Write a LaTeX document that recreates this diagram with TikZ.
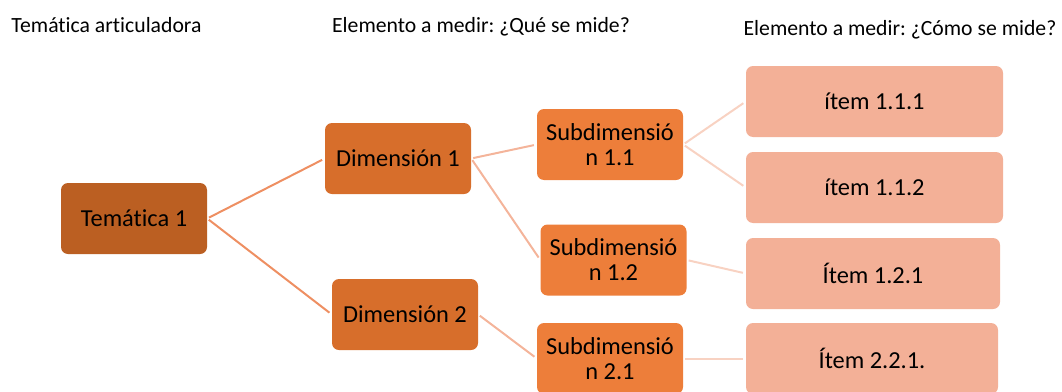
\documentclass[tikz,border=0pt]{standalone}
\usepackage{fontspec}
\setmainfont{Carlito}[Ligatures=NoCommon]
\frenchspacing
\usepackage{tikz}
\usetikzlibrary{shapes,arrows}
\definecolor{temaFill}{RGB}{187,95,34}
\definecolor{dimFill}{RGB}{215,110,43}
\definecolor{subFill}{RGB}{237,126,58}
\definecolor{itemFill}{RGB}{243,176,151}
\definecolor{lineOne}{RGB}{238,143,98}
\definecolor{lineTwo}{RGB}{244,180,154}
\definecolor{lineThree}{RGB}{248,210,194}
\tikzstyle{heading} = [font=\fontsize{21.7}{26}\selectfont, text=black]
\tikzstyle{box} = [rectangle, rounded corners=7pt, inner sep=0pt, minimum height=71pt,
text centered, align=center, font=\fontsize{24.4}{25}\selectfont, text=black]
\tikzstyle{tema} = [box, minimum width=146pt, fill=temaFill]
\tikzstyle{dimension} = [box, minimum width=146pt, fill=dimFill]
\tikzstyle{subdim} = [box, minimum width=146pt, fill=subFill]
\tikzstyle{item} = [box, minimum width=257pt, fill=itemFill]
\tikzstyle{linkOne} = [line width=2pt, draw=lineOne, shorten <=2pt, shorten >=3pt]
\tikzstyle{linkTwo} = [line width=2pt, draw=lineTwo, shorten <=2pt, shorten >=3pt]
\tikzstyle{linkThree} = [line width=2pt, draw=lineThree, shorten <=2pt, shorten >=3pt]
\begin{document}
\begin{tikzpicture}[node distance=264pt]
		\useasboundingbox (0,0) rectangle (1062pt,-391pt);
		%headings
		\node[heading](headTema) at (106.5pt,-25pt){Temática articuladora};
		\node[heading](headQue) at (481pt,-27pt){Elemento a medir: ¿Qué se mide?};
		\node[heading](headComo) at (900pt,-30pt){Elemento a medir: ¿Cómo se mide?};
		
		%blocks
		\node[tema](tema) at (134pt,-218.5pt){Temática 1};
		\node[dimension, right of=tema, yshift=60pt](dimOne){Dimensión 1};
		\node[dimension, right of=tema, xshift=7pt, yshift=-96pt](dimTwo){Dimensión 2};
		\node[subdim, right of=dimOne, xshift=-52pt, yshift=14pt](subOneOne){Subdimensió\\n 1.1};
		\node[subdim, right of=dimOne, xshift=-48.5pt, yshift=-101.5pt](subOneTwo){Subdimensió\\n 1.2};
		\node[subdim, right of=dimTwo, xshift=-59pt, yshift=-44pt](subTwoOne){Subdimensió\\n 2.1};
		\node[item, right of=subOneOne, xshift=0.5pt, yshift=43pt](itemA){ítem 1.1.1};
		\node[item, right of=subOneOne, xshift=0.5pt, yshift=-43pt](itemB){ítem 1.1.2};
		\node[item, minimum width=254pt, right of=subOneTwo, xshift=-4.5pt, yshift=-13.5pt](itemC){Ítem 1.2.1};
		\node[item, minimum width=252pt, right of=subTwoOne, xshift=-2pt](itemD){Ítem 2.2.1.};
		
		%lines
		\draw[linkOne](tema.east)--(dimOne.west);
		\draw[linkOne](tema.east)--(dimTwo.west);
		\draw[linkTwo](dimOne.east)--(subOneOne.west);
		\draw[linkTwo](dimOne.east)--(subOneTwo.west);
		\draw[linkTwo](dimTwo.east)--(subTwoOne.west);
		\draw[linkThree](subOneOne.east)--(itemA.west);
		\draw[linkThree](subOneOne.east)--(itemB.west);
		\draw[linkThree](subOneTwo.east)--(itemC.west);
		\draw[linkThree](subTwoOne.east)--(itemD.west);
	\end{tikzpicture}
\end{document}
